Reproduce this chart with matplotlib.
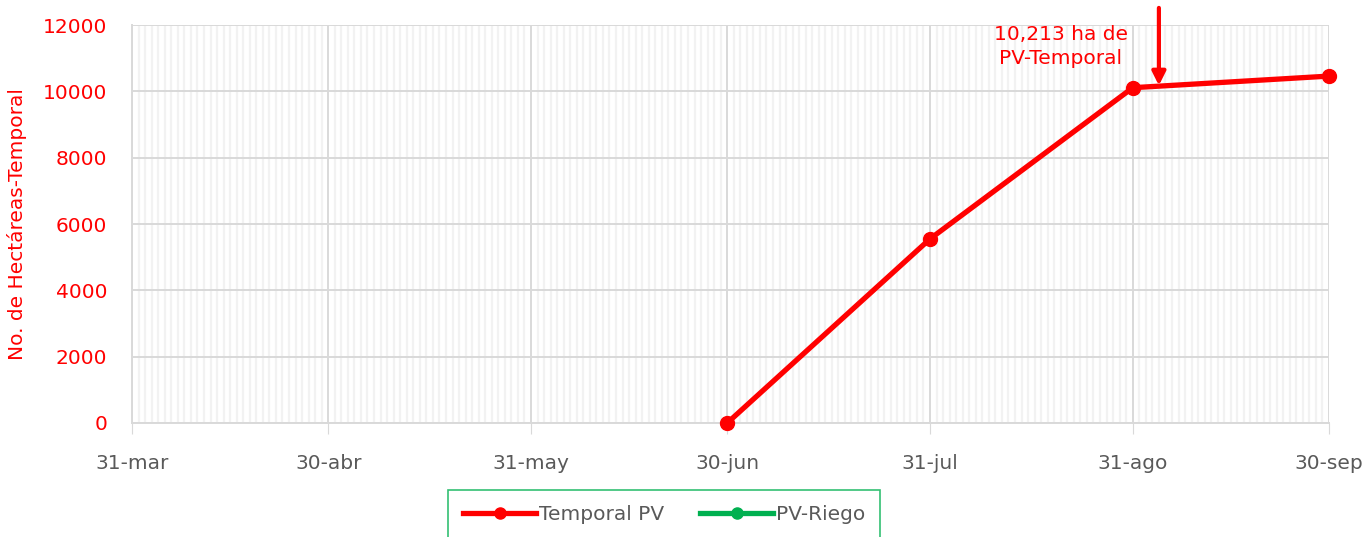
import numpy as np
import pandas as pd
import matplotlib
matplotlib.use("Agg")
import matplotlib.pyplot as plt
import matplotlib.dates as mdates
from matplotlib.lines import Line2D

plt.rcParams['font.family'] = ['DejaVu Sans']

# datos
fechas = pd.to_datetime(["2023-06-30", "2023-07-31", "2023-08-31", "2023-09-30"])
temporal_pv = [0, 5550, 10110, 10460]
tick_fechas = pd.to_datetime(["2023-03-31", "2023-04-30", "2023-05-31", "2023-06-30",
                              "2023-07-31", "2023-08-31", "2023-09-30"])
tick_labels = ["31-mar", "30-abr", "31-may", "30-jun", "31-jul", "31-ago", "30-sep"]
nota_fecha = pd.Timestamp("2023-09-04")
nota_valor = 10213

rojo = "#FF0000"
verde = "#00B050"
gris = "#595959"

fig = plt.figure(figsize=(13.64, 5.37), dpi=100)
ax = fig.add_axes([0.0968, 0.2123, 0.8775, 0.7411])

ax.plot(fechas, temporal_pv, color=rojo, lw=3.8, marker='o', ms=10, zorder=5,
        clip_on=False)

ax.set_xlim(tick_fechas[0], tick_fechas[-1])
ax.set_ylim(0, 12000)
ax.set_yticks(np.arange(0, 12001, 2000))
ax.set_xticks(tick_fechas)
ax.set_xticklabels(tick_labels)
ax.xaxis.set_minor_locator(mdates.DayLocator())

ax.grid(which='major', axis='y', color='#d9d9d9', lw=1.4)
ax.grid(which='major', axis='x', color='#d9d9d9', lw=1.4)
ax.grid(which='minor', axis='x', color='#f2f2f2', lw=1.6)
ax.set_axisbelow(True)

for s in ['top', 'right']:
    ax.spines[s].set_visible(False)
ax.spines['left'].set_color('#d9d9d9')
ax.spines['bottom'].set_color('#d9d9d9')
ax.spines['left'].set_linewidth(1.4)
ax.spines['bottom'].set_linewidth(1.4)

ax.tick_params(axis='y', length=0, labelsize=14.5, labelcolor=rojo, pad=18)
ax.tick_params(axis='x', which='major', length=8, color='#d9d9d9', labelsize=14.5,
               labelcolor=gris, pad=14)
ax.tick_params(axis='x', which='minor', length=0)

ax.set_ylabel("No. de Hectáreas-Temporal", color=rojo, fontsize=14.5)
ax.yaxis.set_label_coords(-0.088, 0.5)

# flecha y nota
ax.annotate("", xy=(nota_fecha, nota_valor - 120), xytext=(nota_fecha, 12600),
            arrowprops=dict(arrowstyle='-|>', color=rojo, lw=3, mutation_scale=20),
            annotation_clip=False, zorder=6)
ax.text(pd.Timestamp("2023-08-20"), 11350, "10,213 ha de\nPV-Temporal", color=rojo,
        fontsize=14.5, ha='center', va='center', linespacing=1.3)

handles = [Line2D([], [], color=rojo, lw=3.8, marker='o', ms=8),
           Line2D([], [], color=verde, lw=3.8, marker='o', ms=8)]
leg = fig.legend(handles, ["Temporal PV", "PV-Riego"], loc='upper center',
                 bbox_to_anchor=(0.487, 0.087), ncol=2, frameon=True, fancybox=False,
                 fontsize=14.5, handlelength=3.6, columnspacing=1.8, handletextpad=0.15,
                 borderpad=0.75, borderaxespad=0)
leg.get_frame().set_edgecolor(verde)
leg.get_frame().set_linewidth(1.2)
for t in leg.get_texts():
    t.set_color(gris)

fig.savefig("out.png", dpi=100)
